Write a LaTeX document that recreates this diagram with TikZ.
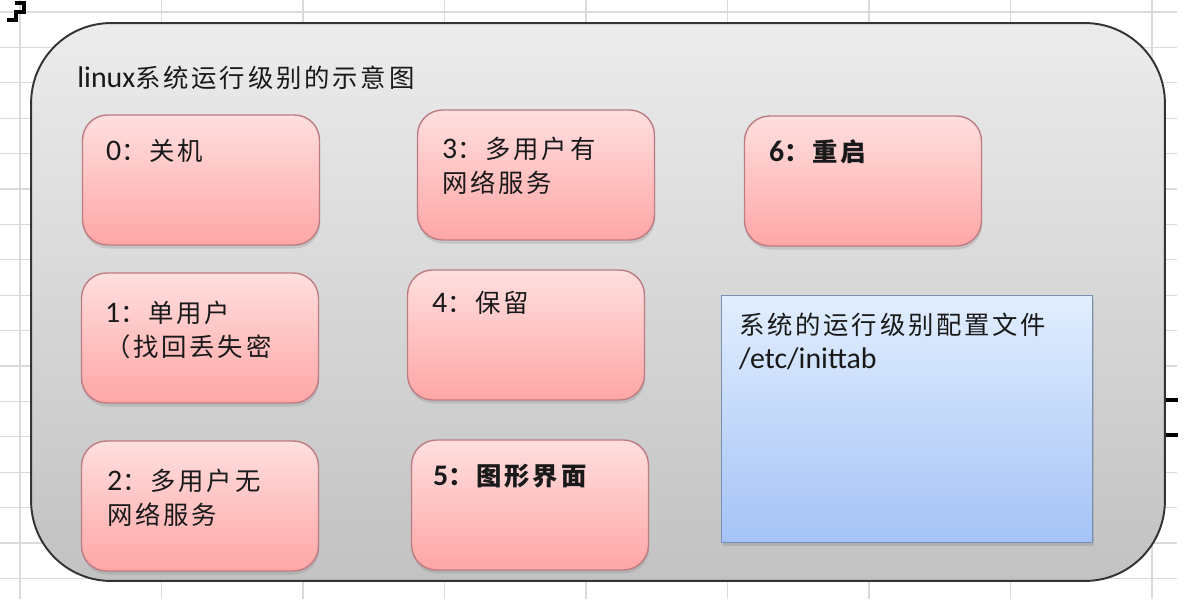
\documentclass[tikz,border=0pt]{standalone}
\usepackage{fontspec}
\setmainfont{Carlito}
\newfontfamily\zhfont[Scale=0.85,LetterSpace=11]{Noto Sans CJK SC}
\newcommand{\zh}[1]{{\zhfont#1}}
\usetikzlibrary{shadows}
\definecolor{gridgray}{HTML}{D9DADB}
\definecolor{panelhi}{HTML}{ECECEC}
\definecolor{panello}{HTML}{C2C2C2}
\definecolor{rosetop}{HTML}{FFDFDF}
\definecolor{rosebot}{HTML}{FFA6A6}
\definecolor{roseline}{HTML}{BD7C82}
\definecolor{skytop}{HTML}{E2EEFF}
\definecolor{skybot}{HTML}{A4C3F5}
\definecolor{skyline}{HTML}{7890B6}
\tikzset{
  gridline/.style={draw=gridgray,line width=0.6pt},
  % Rahmen
  panel/.style={draw=black!80,line width=1.1pt,rounded corners=1.6cm,
                top color=panelhi,bottom color=panello,inner sep=0pt,
                minimum width=22.68cm,minimum height=11.16cm},
  lvbox/.style={draw=roseline,line width=0.8pt,rounded corners=0.5cm,
                top color=rosetop,bottom color=rosebot,inner sep=0pt,
                minimum width=4.74cm,minimum height=2.6cm,
                drop shadow={opacity=0.25,shadow xshift=0.4pt,shadow yshift=-2pt}},
  cfgbox/.style={draw=skyline,line width=0.8pt,
                top color=skytop,bottom color=skybot,inner sep=0pt,
                minimum width=7.42cm,minimum height=4.94cm,
                drop shadow={opacity=0.3,shadow xshift=0.6pt,shadow yshift=-2pt}},
  lvtext/.style={anchor=north west,inner sep=0pt,align=left,text=black!90,
                 font=\fontsize{17}{19.4}\selectfont},
  selmark/.style={draw=black,line width=2.3pt},
}
\begin{document}
\begin{tikzpicture}[x=0.02cm,y=-0.02cm]
\useasboundingbox (0,0) rectangle (1200,599);
  % Tabellenraster
  \foreach \gx in {0,...,8}
    \draw[gridline] ({20+141.5*\gx},0) -- ({20+141.5*\gx},599);
  \foreach \gy in {0,...,16}
    \draw[gridline] (0,{12+35.4*\gy}) -- (1177,{12+35.4*\gy});
  \draw[selmark] (15,3) -- (24,3) -- (24,12) -- (16,12) -- (16,20) -- (7,20);
  \draw[selmark] (1165,400) -- (1178,400);
  \draw[selmark] (1165,435) -- (1178,435);

  \node[panel] (frame) at (598,302) {};
  \node[lvtext] (title) at (77,66) {linux\zh{系统运行级别的示意图}};

  % Runlevel
  \node[lvbox] (lv0) at (201,180) {};
  \node[lvbox] (lv1) at (200,338) {};
  \node[lvbox] (lv2) at (200,506) {};
  \node[lvbox] (lv3) at (536,175) {};
  \node[lvbox] (lv4) at (526,335) {};
  \node[lvbox] (lv5) at (530,505) {};
  \node[lvbox] (lv6) at (863,181) {};
  \node[cfgbox] (cfg) at (907,419) {};

  \node[lvtext] (t0) at ([shift={(24,25)}]lv0.north west) {0\zh{：关机}};
  \node[lvtext] (t1) at ([shift={(24,28)}]lv1.north west) {1\zh{：单用户}\\\zh{（找回丢失密}};
  \node[lvtext] (t2) at ([shift={(26,28)}]lv2.north west) {2\zh{：多用户无}\\\zh{网络服务}};
  \node[lvtext] (t3) at ([shift={(25,27)}]lv3.north west) {3\zh{：多用户有}\\\zh{网络服务}};
  \node[lvtext] (t4) at ([shift={(25,22)}]lv4.north west) {4\zh{：保留}};
  \node[lvtext] (t5) at ([shift={(22,24)}]lv5.north west) {\bfseries 5\zh{：图形界面}};
  \node[lvtext] (t6) at ([shift={(25,24)}]lv6.north west) {\bfseries 6\zh{：重启}};
  \node[lvtext] (tc) at ([shift={(18,18)}]cfg.north west) {\zh{系统的运行级别配置文件}\\/etc/inittab};
\end{tikzpicture}
\end{document}
